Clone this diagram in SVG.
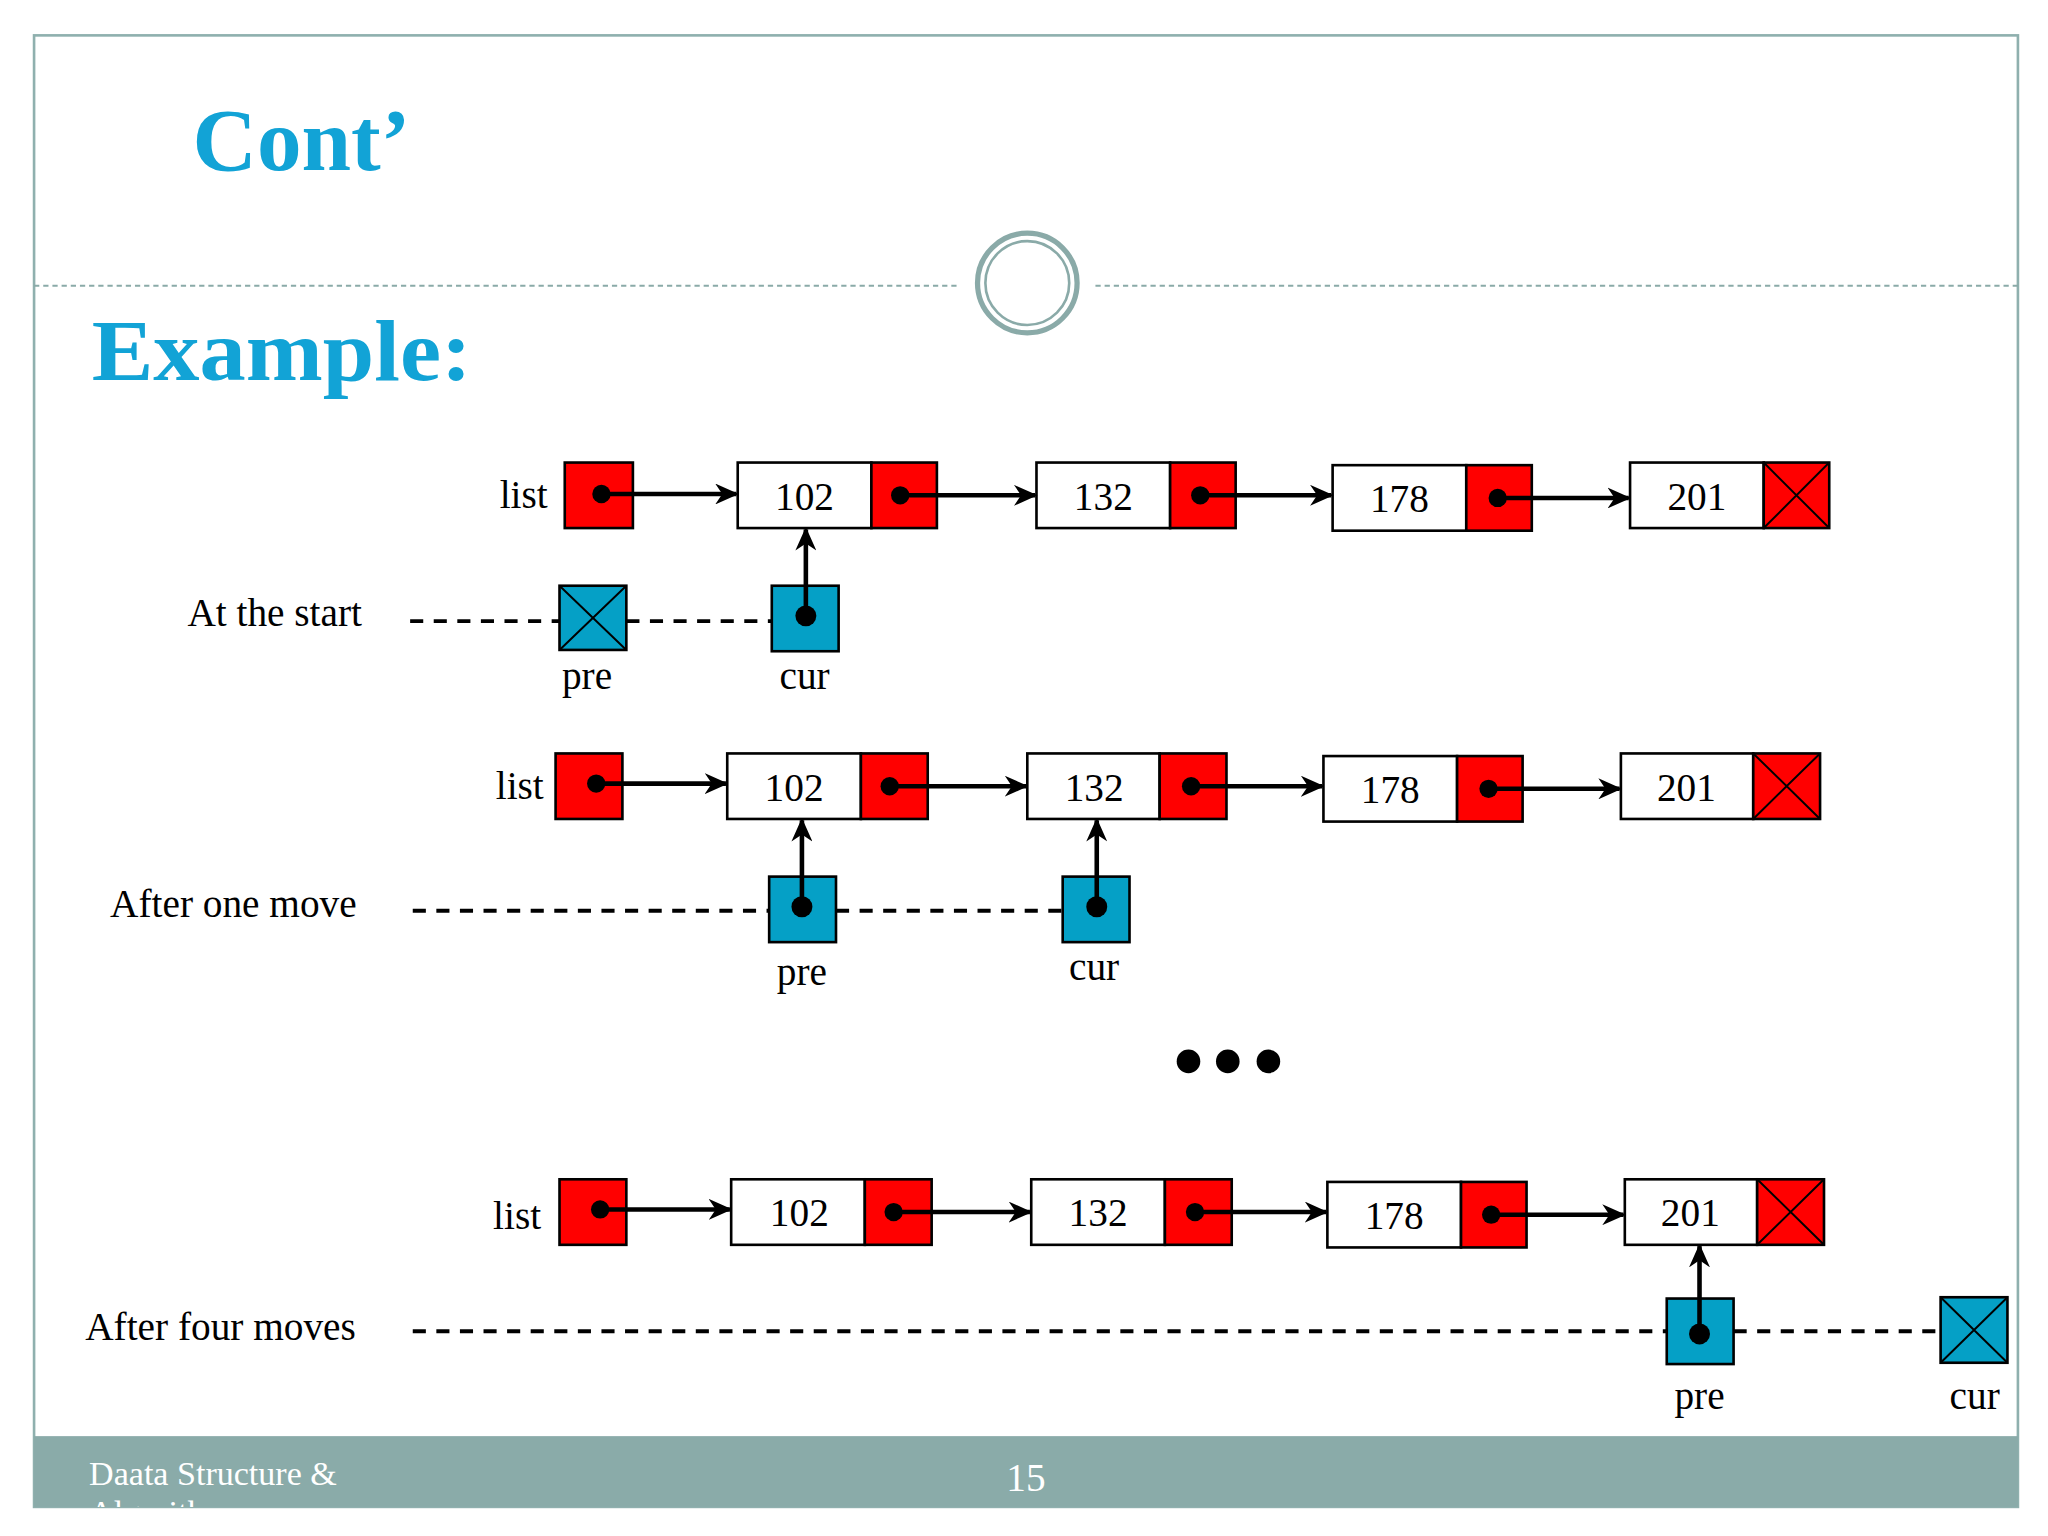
<svg xmlns="http://www.w3.org/2000/svg" width="2048" height="1536" viewBox="0 0 2048 1536">
<style>
.t{font-family:"Liberation Serif",serif;fill:#000;font-size:30px}
.h{font-family:"Liberation Serif",serif;fill:#12a3d6;font-weight:bold}
.w{fill:#fff;stroke:#000;stroke-width:2}
.r{fill:#f00;stroke:#000;stroke-width:2}
.b{fill:#05a0c6;stroke:#000;stroke-width:2}
.x{stroke:#000;stroke-width:1.5}
.a{stroke:#000;stroke-width:3.5;fill:none;marker-end:url(#ah)}
.d{stroke:#000;stroke-width:3;stroke-dasharray:10 8;fill:none}
</style>
<defs>
<marker id="ah" viewBox="0 0 10 10" refX="9" refY="5" markerWidth="18" markerHeight="16" markerUnits="userSpaceOnUse" orient="auto" preserveAspectRatio="none"><path d="M0,0 L10,5 L0,10 L3,5 Z" fill="#000"/></marker>
<clipPath id="fc"><rect x="26" y="1096" width="1514" height="54"/></clipPath>
</defs>
<rect width="2048" height="1536" fill="#fff"/>
<g transform="scale(1.31034)">
<g id="slide">
<rect x="26" y="27" width="1514" height="1123" fill="none" stroke="#8fb0ae" stroke-width="2"/>
<text class="h" x="147" y="130" font-size="68">Cont’</text>
<line x1="26" y1="218" x2="730" y2="218" stroke="#8aaaa8" stroke-width="1.5" stroke-dasharray="4 3"/>
<line x1="836" y1="218" x2="1540" y2="218" stroke="#8aaaa8" stroke-width="1.5" stroke-dasharray="4 3"/>
<circle cx="784" cy="216" r="38" fill="#fff" stroke="#8aaaa8" stroke-width="4"/>
<circle cx="784" cy="216" r="32" fill="none" stroke="#8aaaa8" stroke-width="2"/>
<text class="h" x="70" y="290" font-size="66" textLength="290" lengthAdjust="spacingAndGlyphs">Example:</text>
<rect x="26" y="1096" width="1514" height="54" fill="#8aaba9"/>
<g clip-path="url(#fc)" font-family="Liberation Serif,serif" fill="#fff">
<text x="68" y="1133" font-size="26">Daata Structure &amp;</text>
<text x="68" y="1163" font-size="26">Algorithm</text>
<text x="783" y="1138" font-size="30" text-anchor="middle">15</text>
</g>
</g>
<g id="row1">
<text class="t" x="418" y="388" text-anchor="end">list</text>
<rect class="r" x="431" y="353" width="52" height="50"/>
<rect class="w" x="563" y="353" width="102" height="50"/><rect class="r" x="665" y="353" width="50" height="50"/><text class="t" x="614" y="389" text-anchor="middle">102</text>
<rect class="w" x="791" y="353" width="102" height="50"/><rect class="r" x="893" y="353" width="50" height="50"/><text class="t" x="842" y="389" text-anchor="middle">132</text>
<rect class="w" x="1017" y="355" width="102" height="50"/><rect class="r" x="1119" y="355" width="50" height="50"/><text class="t" x="1068" y="391" text-anchor="middle">178</text>
<rect class="w" x="1244" y="353" width="102" height="50"/><rect class="r" x="1346" y="353" width="50" height="50"/><path class="x" d="M1346,353 L1396,403 M1396,353 L1346,403"/><text class="t" x="1295" y="389" text-anchor="middle">201</text>
<text class="t" x="143" y="478">At the start</text>
<rect class="b" x="427" y="447" width="51" height="49"/><path class="x" d="M427,447 L478,496 M478,447 L427,496"/>
<rect class="b" x="589" y="447" width="51" height="50"/>
<text class="t" x="448" y="526" text-anchor="middle">pre</text><text class="t" x="614" y="526" text-anchor="middle">cur</text>
</g>
<g id="row2">
<text class="t" x="415" y="610" text-anchor="end">list</text>
<rect class="r" x="424" y="575" width="51" height="50"/>
<rect class="w" x="555" y="575" width="102" height="50"/><rect class="r" x="657" y="575" width="51" height="50"/><text class="t" x="606" y="611" text-anchor="middle">102</text>
<rect class="w" x="784" y="575" width="101" height="50"/><rect class="r" x="885" y="575" width="51" height="50"/><text class="t" x="835" y="611" text-anchor="middle">132</text>
<rect class="w" x="1010" y="577" width="102" height="50"/><rect class="r" x="1112" y="577" width="50" height="50"/><text class="t" x="1061" y="613" text-anchor="middle">178</text>
<rect class="w" x="1237" y="575" width="101" height="50"/><rect class="r" x="1338" y="575" width="51" height="50"/><path class="x" d="M1338,575 L1389,625 M1389,575 L1338,625"/><text class="t" x="1287" y="611" text-anchor="middle">201</text>
<text class="t" x="84" y="700">After one move</text>
<rect class="b" x="587" y="669" width="51" height="50"/>
<rect class="b" x="811" y="669" width="51" height="50"/>
<text class="t" x="612" y="752" text-anchor="middle">pre</text><text class="t" x="835" y="748" text-anchor="middle">cur</text>
</g>
<g id="dots"><circle cx="907" cy="810" r="9"/><circle cx="937" cy="810" r="9"/><circle cx="968" cy="810" r="9"/></g>
<g id="row3">
<text class="t" x="413" y="938" text-anchor="end">list</text>
<rect class="r" x="427" y="900" width="51" height="50"/>
<rect class="w" x="558" y="900" width="102" height="50"/><rect class="r" x="660" y="900" width="51" height="50"/><text class="t" x="610" y="936" text-anchor="middle">102</text>
<rect class="w" x="787" y="900" width="102" height="50"/><rect class="r" x="889" y="900" width="51" height="50"/><text class="t" x="838" y="936" text-anchor="middle">132</text>
<rect class="w" x="1013" y="902" width="102" height="50"/><rect class="r" x="1115" y="902" width="50" height="50"/><text class="t" x="1064" y="938" text-anchor="middle">178</text>
<rect class="w" x="1240" y="900" width="101" height="50"/><rect class="r" x="1341" y="900" width="51" height="50"/><path class="x" d="M1341,900 L1392,950 M1392,900 L1341,950"/><text class="t" x="1290" y="936" text-anchor="middle">201</text>
<text class="t" x="65" y="1023">After four moves</text>
<rect class="b" x="1272" y="991" width="51" height="50"/>
<rect class="b" x="1481" y="990" width="51" height="50"/><path class="x" d="M1481,990 L1532,1040 M1532,990 L1481,1040"/>
<text class="t" x="1297" y="1075" text-anchor="middle">pre</text><text class="t" x="1507" y="1075" text-anchor="middle">cur</text>
</g>
<g id="connectors">
<path class="d" d="M313,474 H427 M478,474 H589"/>
<path class="d" d="M315,695 H587 M638,695 H811"/>
<path class="d" d="M315,1016 H1272 M1323,1016 H1481"/>
<g fill="#000">
<circle cx="459" cy="377" r="7"/><circle cx="687" cy="378" r="7"/><circle cx="916" cy="378" r="7"/><circle cx="1143" cy="380" r="7"/>
<circle cx="615" cy="470" r="8"/>
<circle cx="455" cy="598" r="7"/><circle cx="679" cy="600" r="7"/><circle cx="909" cy="600" r="7"/><circle cx="1136" cy="602" r="7"/>
<circle cx="612" cy="692" r="8"/><circle cx="837" cy="692" r="8"/>
<circle cx="458" cy="923" r="7"/><circle cx="682" cy="925" r="7"/><circle cx="912" cy="925" r="7"/><circle cx="1138" cy="927" r="7"/>
<circle cx="1297" cy="1018" r="8"/>
</g>
<path class="a" d="M459,377 H562"/><path class="a" d="M687,378 H790"/><path class="a" d="M916,378 H1016"/><path class="a" d="M1143,380 H1243"/>
<path class="a" d="M615,470 V404"/>
<path class="a" d="M455,598 H554"/><path class="a" d="M679,600 H783"/><path class="a" d="M909,600 H1009"/><path class="a" d="M1136,602 H1236"/>
<path class="a" d="M612,692 V626"/><path class="a" d="M837,692 V626"/>
<path class="a" d="M458,923 H557"/><path class="a" d="M682,925 H786"/><path class="a" d="M912,925 H1012"/><path class="a" d="M1138,927 H1239"/>
<path class="a" d="M1297,1018 V951"/>
</g>
</g>
</svg>
